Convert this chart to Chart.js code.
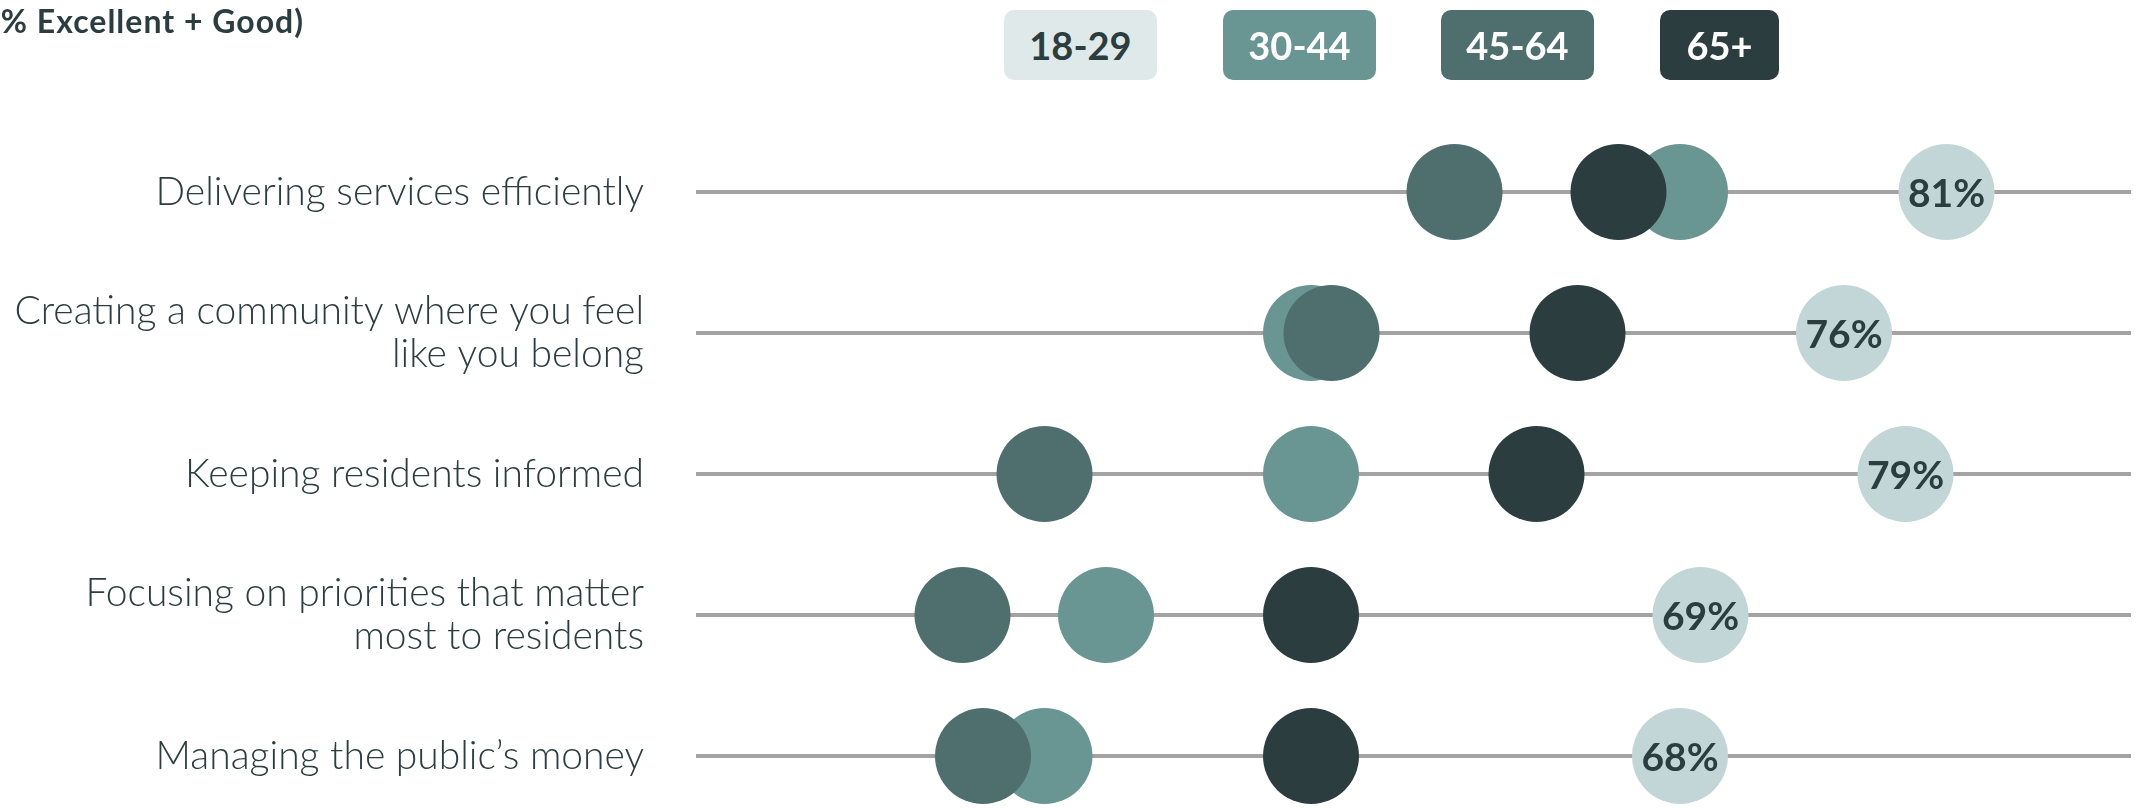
<!DOCTYPE html>
<html>
<head>
<meta charset="utf-8">
<title>Ratings by age</title>
<script src="https://cdn.jsdelivr.net/npm/chart.js@4/dist/chart.umd.min.js"></script>
<style>
  html, body { margin: 0; padding: 0; background: #ffffff; }
  #wrap { position: relative; width: 2139px; height: 808px; overflow: hidden; }
  #title {
    position: absolute; right: calc(2139px - 304px); top: 5px;
    font-family: Lato, "Noto Sans", sans-serif; font-weight: 700; font-size: 32px;
    line-height: 31px; letter-spacing: 1px;
    color: #2c3d40; white-space: nowrap;
  }
  .key {
    position: absolute; top: 10px; height: 70px; border-radius: 10px;
    font-family: Lato, "Noto Sans", sans-serif; font-weight: 700; font-size: 38px;
    line-height: 70px; text-align: center; color: #ffffff;
  }
  canvas { display: block; }
</style>
</head>
<body>
<div id="wrap">
  <canvas id="dotChart" width="2139" height="808"></canvas>
  <div id="title">(% Excellent + Good)</div>
  <div id="legend"></div>
</div>

<script>
/* ============================================
   DATA
   ============================================ */
const categories = [
  "Delivering services efficiently",
  ["Creating a community where you feel", "like you belong"],
  "Keeping residents informed",
  ["Focusing on priorities that matter", "most to residents"],
  "Managing the public\u2019s money"
];

const ageGroups = ["18-29", "30-44", "45-64", "65+"];

const age18to29 = [81, 76, 79, 69, 68];
const age30to44 = [68, 50, 50, 40, 37];
const age45to64 = [57, 51, 37, 33, 34];
const age65plus = [65, 63, 61, 50, 50];

/* ============================================
   COLOURS
   ============================================ */
const dotColors = ["#c3d6d7", "#699593", "#4e6f6e", "#2c3d40"];
const keyColors = ["#e0e9ea", "#699593", "#4e6f6e", "#2c3d40"];
const textDark = "#2c3d40";

// legend boxes along the top
const keyLeft = [1004, 1223, 1441, 1660];
const keyWidth = [153, 153, 153, 119];

document.addEventListener("DOMContentLoaded", function () {
  const legend = document.getElementById("legend");
  ageGroups.forEach((name, i) => {
    const box = document.createElement("div");
    box.className = "key";
    box.textContent = name;
    box.style.left = keyLeft[i] + "px";
    box.style.width = keyWidth[i] + "px";
    box.style.background = keyColors[i];
    if (i === 0) box.style.color = textDark;
    legend.appendChild(box);
  });

  createDotChart();
});

// writes the % value inside each 18-29 dot
const valueLabels = {
  id: "valueLabels",
  afterDatasetsDraw(chart) {
    const ctx = chart.ctx;
    const meta = chart.getDatasetMeta(0);
    ctx.save();
    ctx.font = "700 39px Lato, 'Noto Sans', sans-serif";
    ctx.fillStyle = textDark;
    ctx.textAlign = "center";
    ctx.textBaseline = "alphabetic";
    meta.data.forEach((pt, i) => {
      ctx.fillText(age18to29[i] + "%", pt.x, pt.y + 15);
    });
    ctx.restore();
  }
};

function makeSet(label, values, color, order) {
  return {
    label: label,
    data: values,
    showLine: false,
    backgroundColor: color,
    borderColor: color,
    borderWidth: 0,
    pointRadius: 48,
    pointHoverRadius: 48,
    pointBorderWidth: 0,
    clip: false,
    order: order
  };
}

function createDotChart() {
  const ctx = document.getElementById("dotChart").getContext("2d");

  new Chart(ctx, {
    type: "line",
    data: {
      labels: categories,
      datasets: [
        makeSet(ageGroups[0], age18to29, dotColors[0], 3),
        makeSet(ageGroups[1], age30to44, dotColors[1], 2),
        makeSet(ageGroups[2], age45to64, dotColors[2], 1),
        makeSet(ageGroups[3], age65plus, dotColors[3], 0)
      ]
    },
    options: {
      indexAxis: "y",
      responsive: false,
      animation: false,
      events: [],
      layout: {
        autoPadding: false,
        padding: { top: 192, bottom: 52, left: 0, right: 8 }
      },
      scales: {
        x: {
          type: "linear",
          min: 20,
          max: 90,
          display: false
        },
        y: {
          type: "category",
          offset: false,
          border: { display: false },
          grid: {
            color: "#a3a3a3",
            lineWidth: 4,
            drawTicks: false,
            offset: false
          },
          ticks: {
            padding: 52,
            color: textDark,
            font: { family: "Lato, 'Noto Sans', sans-serif", weight: "300", size: 39, lineHeight: 1.1 }
          },
          afterFit(scale) {
            // fixed label column; the tick padding should not eat into the plot height
            scale.width = 696;
            scale.paddingTop = 22;
            scale.paddingBottom = 22;
          }
        }
      },
      plugins: {
        legend: { display: false },
        tooltip: { enabled: false }
      }
    },
    plugins: [valueLabels]
  });
}
</script>
</body>
</html>
